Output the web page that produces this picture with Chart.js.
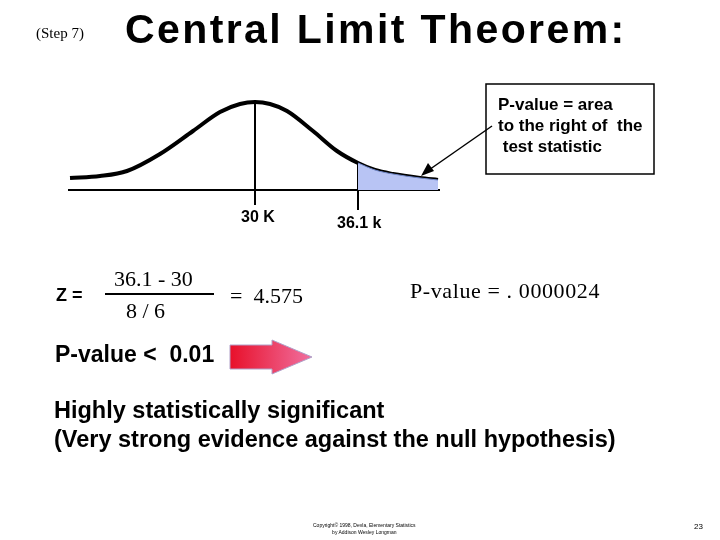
<!DOCTYPE html>
<html><head><meta charset="utf-8">
<script src="https://cdn.jsdelivr.net/npm/chart.js@4"></script>
<style>
body{margin:0;width:720px;height:540px;position:relative;background:#fff;overflow:hidden;font-family:"Liberation Sans",Arial,sans-serif}
#c{position:absolute;left:0;top:0}
.t{position:absolute;white-space:nowrap;color:#000}
.b{font-weight:bold}
.serif{font-family:"Liberation Serif","Times New Roman",serif}
</style></head><body>
<canvas id="c" width="720" height="540"></canvas>
<svg width="720" height="540" style="position:absolute;left:0;top:0">
  <defs><linearGradient id="g" x1="0" x2="1"><stop offset="0" stop-color="#e8102a"/><stop offset="1" stop-color="#f070a0"/></linearGradient></defs>
  <rect x="486" y="84" width="168" height="90" fill="none" stroke="#000" stroke-width="1.5"/>
  <line x1="492" y1="126" x2="426" y2="172" stroke="#000" stroke-width="1.5"/>
  <polygon points="421,176 428,163 434,171" fill="#000"/>
  <line x1="105" y1="294" x2="214" y2="294" stroke="#000" stroke-width="2"/>
  <polygon points="230,345 272,345 272,340 312,357 272,374 272,369 230,369" fill="url(#g)" stroke="#b0a0c8" stroke-width="1"/>
</svg>
<div class="t serif" style="left:36px;top:25px;font-size:15px">(Step 7)</div>
<div class="t b" style="left:125px;top:6px;font-size:41px;letter-spacing:2.4px">Central Limit Theorem:</div>
<div class="t b" style="left:498px;top:94px;font-size:17px;line-height:21px">P-value = area<br>to the right of &nbsp;the<br>&nbsp;test statistic</div>
<div class="t b" style="left:241px;top:208px;font-size:16px">30 K</div>
<div class="t b" style="left:337px;top:214px;font-size:16px">36.1 k</div>
<div class="t b" style="left:56px;top:285px;font-size:18px">Z =</div>
<div class="t serif" style="left:114px;top:266px;font-size:22px">36.1 - 30</div>
<div class="t serif" style="left:126px;top:298px;font-size:22px">8 / 6</div>
<div class="t serif" style="left:230px;top:283px;font-size:22px">= &nbsp;4.575</div>
<div class="t serif" style="left:410px;top:278px;font-size:22px;letter-spacing:0.6px">P-value = . 0000024</div>
<div class="t b" style="left:55px;top:341px;font-size:23px">P-value &lt; &nbsp;0.01</div>
<div class="t b" style="left:54px;top:396px;font-size:23.5px;line-height:29px">Highly statistically significant<br>(Very strong evidence against the null hypothesis)</div>
<div class="t" style="left:313px;top:522px;font-size:5px;text-align:center;line-height:7px">Copyright© 1998, Devla, Elementary Statistics<br>by Addison Wesley Longman</div>
<div class="t" style="left:694px;top:522px;font-size:8px">23</div>
<script>
// curve: horizontal position vs height above the axis
const curveX = [70, 100, 127, 160, 193, 220, 240, 255, 270, 287, 313, 337, 358, 375, 393, 420, 438];
const curveY = [12, 14, 19, 36, 59, 78, 86, 88, 86, 79, 59, 39, 27, 20, 16, 12, 10];
const tailFrom = 358;
const meanX = 255, statX = 358;
const axisX = [68, 440];

const curve = curveX.map((x, i) => ({x, y: curveY[i]}));
const tail = curve.filter(p => p.x >= tailFrom);

new Chart(document.getElementById('c'), {
  type: 'line',
  data: {datasets: [
    {data: tail, fill: 'origin', backgroundColor: '#b8c4f4', borderColor: '#6f86c8', borderWidth: 1, pointRadius: 0, cubicInterpolationMode: 'monotone'},
    {data: curve, borderColor: '#000', borderWidth: 4, pointRadius: 0, cubicInterpolationMode: 'monotone'},
    {data: axisX.map(x => ({x, y: 0})), borderColor: '#000', borderWidth: 2, pointRadius: 0},
    {data: [{x: meanX, y: -15}, {x: meanX, y: 88}], borderColor: '#000', borderWidth: 2, pointRadius: 0},
    {data: [{x: statX, y: -20}, {x: statX, y: 27}], borderColor: '#000', borderWidth: 2, pointRadius: 0}
  ]},
  options: {
    responsive: false, animation: false,
    layout: {padding: 0},
    plugins: {legend: {display: false}, tooltip: {enabled: false}},
    scales: {
      x: {type: 'linear', min: 0, max: 720, display: false},
      y: {min: -350, max: 190, display: false}
    }
  }
});
</script>
</body></html>
